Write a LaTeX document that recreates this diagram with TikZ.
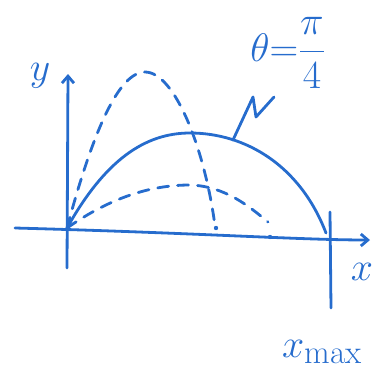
\documentclass[tikz,border=0pt]{standalone}
\usepackage{amsmath}
\usetikzlibrary{arrows.meta, positioning, calc}
\definecolor{pen}{RGB}{38,108,205}

\begin{document}
\begin{tikzpicture}[
    x=1pt, y=-1pt,
    ink/.style={draw=pen, line width=2.8pt, line cap=round, line join=round},
    dashink/.style={ink, dash pattern=on 11pt off 9pt},
    lbl/.style={text=pen, inner sep=0pt, font=\Huge, scale=1.6, transform shape},
    >={Straight Barb[length=7pt, width=12pt]}
]
\useasboundingbox (0,0) rectangle (377,381);

% axes
\coordinate (O)      at (67,228);
\coordinate (ytop)   at (68,74);
\coordinate (ybot)   at (67,268);
\coordinate (xleft)  at (15,228);
\coordinate (xright) at (370,240);
\coordinate (mtop)   at (330,212);
\coordinate (mbot)   at (331,308);
\draw[ink, ->] (ybot) -- (ytop);
\draw[ink, ->] (xleft) .. controls (200,233) and (300,240) .. (xright);
\draw[ink] (mtop) -- (mbot);

% trajectories
\draw[ink] (O) .. controls (105,160) and (145,133) .. (190,133)
    .. controls (245,133) and (300,165) .. (326,233);
\draw[dashink] (O) .. controls (92,135) and (118,72) .. (145,72)
    .. controls (175,72) and (205,150) .. (215,226);
\draw[dashink] (O) .. controls (110,198) and (150,185) .. (190,185)
    .. controls (225,186) and (250,207) .. (268,222);
\fill[pen] (216,228) circle (2.2pt);
\fill[pen] (270,237) circle (2.2pt);

% labels
\node[lbl] (ylab)  at (40,76)   {$y$};
\node[lbl] (xlab)  at (362,272) {$x$};
\node[lbl] (xmax)  at (322,352) {$x_{\max}$};
\node[lbl] (theta) at (288,53)  {$\theta{=}\dfrac{\pi}{4}$};

% pointer to the 45 degree path
\coordinate (tip) at (233,140);
\draw[ink] (tip) -- (253,97) -- (256,117) -- (274,97);
\end{tikzpicture}
\end{document}
